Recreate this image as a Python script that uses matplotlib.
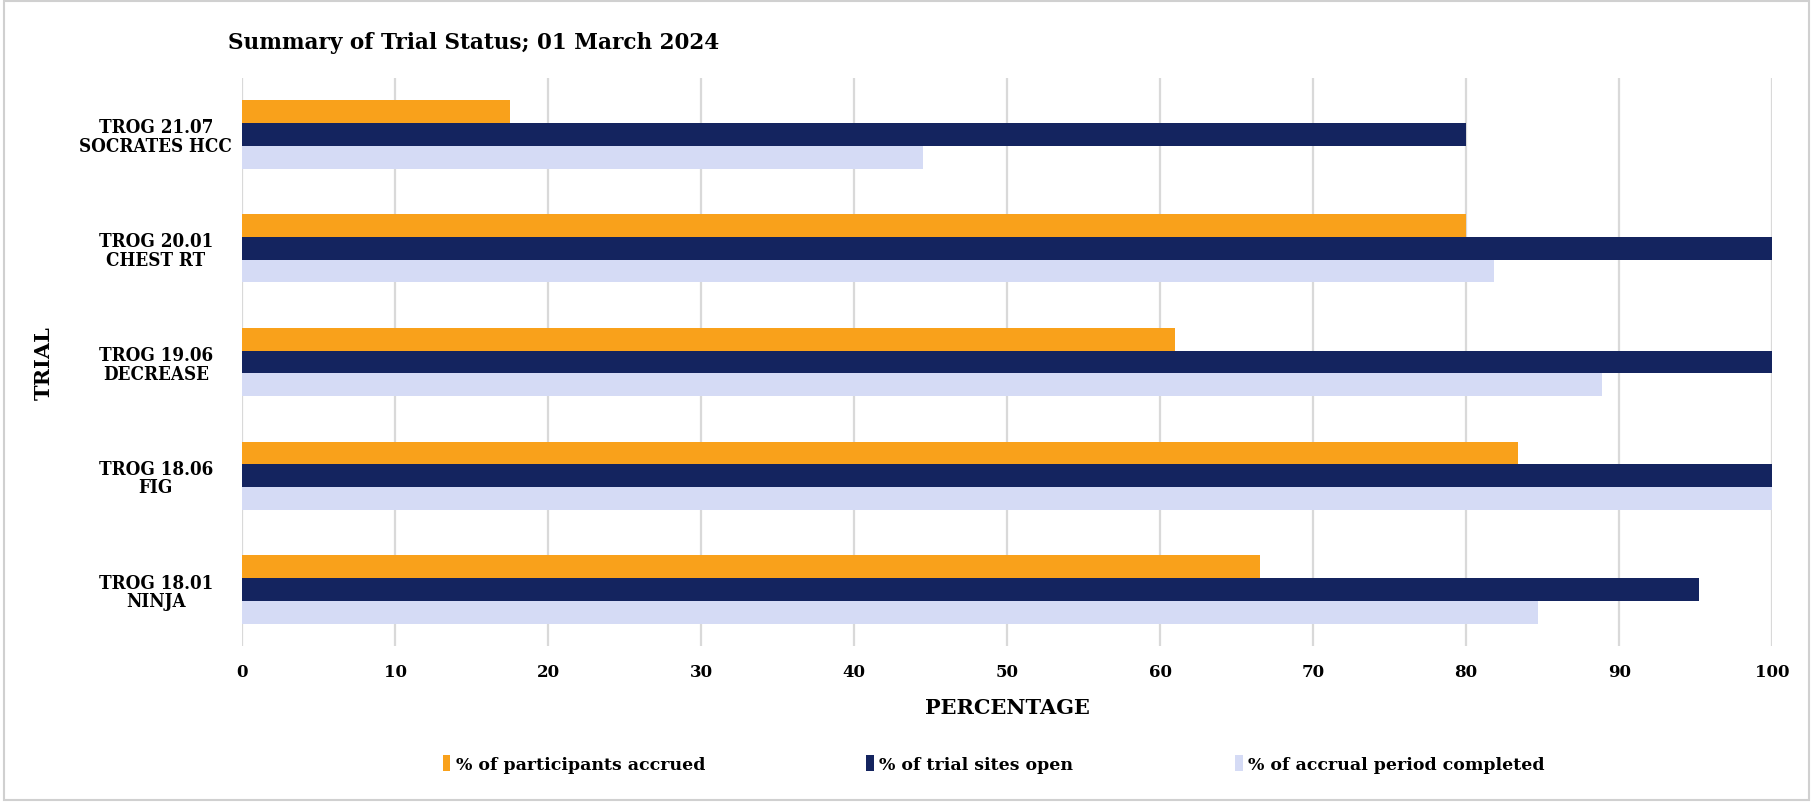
import matplotlib.pyplot as plt
import matplotlib.patches as patches
import numpy as np

trials = ['TROG 18.01\nNINJA', 'TROG 18.06\nFIG', 'TROG 19.06\nDECREASE',
          'TROG 20.01\nCHEST RT', 'TROG 21.07\nSOCRATES HCC']
participants = [66.5, 83.4, 61.0, 80.0, 17.5]
sites_open = [95.2, 100.0, 100.0, 100.0, 80.0]
accrual_period = [84.7, 100.0, 88.9, 81.8, 44.5]
series_names = ['% of participants accrued', '% of trial sites open',
                '% of accrual period completed']
colors = ['#F9A11B', '#14245F', '#D5DBF5']
xticks = list(range(0, 101, 10))

plt.rcParams['font.family'] = ['DejaVu Serif']
plt.rcParams['font.weight'] = 'bold'

fig = plt.figure(figsize=(18.13, 8.03), dpi=100)
ax = fig.add_axes([0.1335, 0.1937, 0.844, 0.7085])

y = np.arange(len(trials))
h = 0.2
ax.barh(y + h, participants, height=h, color=colors[0], label=series_names[0], zorder=3)
ax.barh(y, sites_open, height=h, color=colors[1], label=series_names[1], zorder=3)
ax.barh(y - h, accrual_period, height=h, color=colors[2], label=series_names[2], zorder=3)

ax.set_xlim(0, 100)
ax.set_ylim(-0.5, 4.5)
ax.set_xticks(xticks)
ax.set_yticks(y)
ax.set_yticklabels(trials, fontsize=13.5, fontweight='bold', linespacing=1.05,
                   ha='center', fontstretch='condensed')
ax.tick_params(axis='y', length=0, pad=62)
ax.tick_params(axis='x', length=0, pad=12, labelsize=12)
for lab in ax.get_xticklabels():
    lab.set_fontweight('bold')
ax.grid(axis='x', color='#d9d9d9', linewidth=1.6, zorder=0)
for s in ax.spines.values():
    s.set_visible(False)

ax.set_xlabel('PERCENTAGE', fontsize=15, fontweight='bold', labelpad=12)
ax.set_ylabel('TRIAL', fontsize=15, fontweight='bold')
ax.yaxis.set_label_coords(-0.123, 0.5)

fig.text(0.126, 0.946, 'Summary of Trial Status; 01 March 2024',
         fontsize=15.5, fontweight='bold', va='center', ha='left')

leg = fig.legend(loc='center', bbox_to_anchor=(0.548, 0.047), ncol=3, frameon=False,
                 fontsize=12.5, handlelength=0.45, handleheight=1.0,
                 handletextpad=0.3, columnspacing=9.3)

fig.add_artist(patches.Rectangle((0.002, 0.003), 0.996, 0.994, transform=fig.transFigure,
                                 fill=False, edgecolor='#d0d0d0', linewidth=1.5))

plt.savefig('out.png', dpi=100)
